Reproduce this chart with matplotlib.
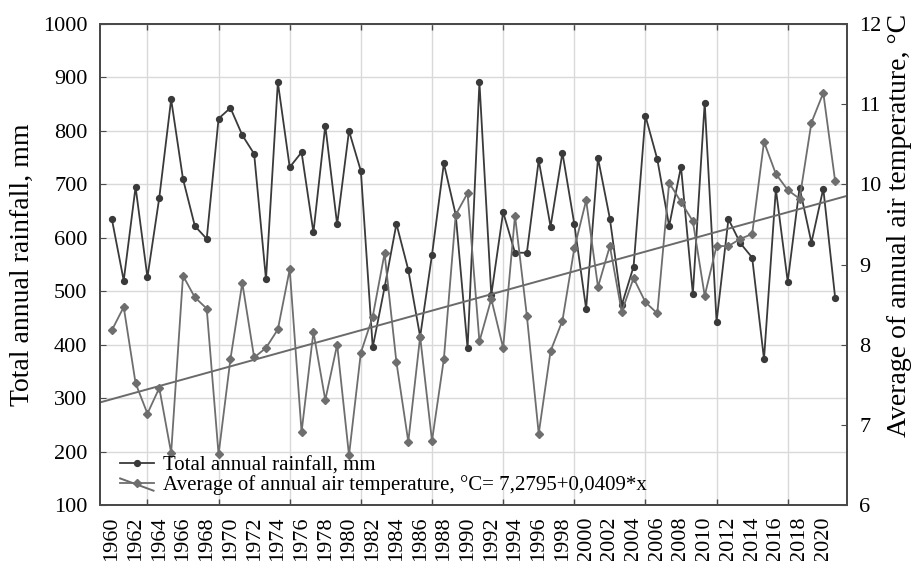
import matplotlib
matplotlib.use("Agg")
import matplotlib.pyplot as plt
import numpy as np
from matplotlib.lines import Line2D
from matplotlib.legend_handler import HandlerBase, HandlerTuple
from matplotlib.ticker import MultipleLocator

plt.rcParams['font.family'] = ['Liberation Serif', 'DejaVu Serif']

years = list(range(1960, 2022))
rainfall = [635, 520, 695, 526, 675, 859, 710, 622, 598, 823,
            843, 792, 757, 522, 891, 732, 760, 610, 810, 625,
            800, 725, 395, 507, 626, 540, 415, 568, 739, 643,
            393, 891, 493, 648, 572, 572, 745, 621, 759, 626,
            467, 749, 636, 474, 546, 828, 747, 622, 733, 495,
            853, 443, 635, 590, 563, 373, 691, 518, 694, 591,
            692, 488]
temperature = [8.18, 8.47, 7.52, 7.14, 7.46, 6.65, 8.86, 8.59, 8.45, 6.63,
               7.82, 8.77, 7.84, 7.96, 8.19, 8.94, 6.91, 8.16, 7.31, 8.00,
               6.62, 7.90, 8.35, 9.14, 7.78, 6.79, 8.10, 6.80, 7.82, 9.62,
               9.89, 8.04, 8.57, 7.96, 9.61, 8.36, 6.89, 7.92, 8.30, 9.20,
               9.80, 8.72, 9.23, 8.41, 8.83, 8.53, 8.39, 10.02, 9.78, 9.54,
               8.61, 9.23, 9.23, 9.32, 9.38, 10.53, 10.13, 9.93, 9.82, 10.77,
               11.14, 10.04]
trend_intercept = 7.2795
trend_slope = 0.0409
label_rain = "Total annual rainfall, mm"
label_temp = "Average of annual air temperature, °C= 7,2795+0,0409*x"
ylabel_left = "Total annual rainfall, mm"
ylabel_right = "Average of annual air temperature, °C"

c_rain = '#3a3a3a'
c_temp = '#6e6e6e'
c_trend = '#6a6a6a'
c_grid = '#d9d9d9'
c_spine = '#4a4a4a'

fig = plt.figure(figsize=(9.15, 5.61), dpi=100)
ax = fig.add_axes([100/915, 56/561, 747/915, 481/561])
ax2 = ax.twinx()

xmin, xmax = 1959, 2022
ax.set_xlim(xmin, xmax)
ax.set_ylim(100, 1000)
ax2.set_ylim(6, 12)

# grid
ax.yaxis.set_major_locator(MultipleLocator(100))
ax.set_xticks(years[::2])
ax.set_xticks(list(range(1960, 2021, 3)), minor=True)
ax.grid(True, which='major', axis='y', color=c_grid, lw=1.0)
ax.grid(True, which='minor', axis='x', color=c_grid, lw=1.0)
ax.set_axisbelow(True)

ax.plot(years, rainfall, color=c_rain, lw=1.3, marker='o', ms=4.2, zorder=3)

tx = np.array([xmin, xmax])
trend_y = trend_intercept + trend_slope * (tx - 1959)
trend_line, = ax2.plot(tx, trend_y, color=c_trend, lw=1.4, zorder=2)
temp_line, = ax2.plot(years, temperature, color=c_temp, lw=1.3, marker='D',
                      ms=3.8, zorder=3)

# ticks
ax.tick_params(axis='x', which='major', length=0, pad=8, labelsize=16,
               labelrotation=90)
ax.tick_params(axis='x', which='minor', direction='in', length=4,
               top=True, bottom=True, width=1, color=c_spine)
ax.tick_params(axis='y', which='major', direction='in', length=4,
               pad=9, labelsize=16, color=c_spine)
ax2.tick_params(axis='y', which='major', direction='in', length=4,
                pad=9, labelsize=16, color=c_spine)
ax2.yaxis.set_major_locator(MultipleLocator(1))

for a in (ax, ax2):
    for s in a.spines.values():
        s.set_color(c_spine)
        s.set_linewidth(1.4)

ax.set_ylabel(ylabel_left, fontsize=20)
ax.yaxis.set_label_coords(-0.0866, 0.5)
ax2.set_ylabel(ylabel_right, fontsize=20)
ax2.yaxis.set_label_coords(1.053, 0.582)


class HandlerDiag(HandlerBase):
    def create_artists(self, legend, orig_handle, xdescent, ydescent,
                       width, height, fontsize, trans):
        l = Line2D([-xdescent, -xdescent + width],
                   [-ydescent + height * 0.82, -ydescent - height * 0.02],
                   color=orig_handle.get_color(), lw=orig_handle.get_linewidth())
        l.set_transform(trans)
        return [l]


rain_proxy = Line2D([], [], color=c_rain, lw=1.3, marker='o', ms=4.2)
temp_proxy = Line2D([], [], color=c_temp, lw=1.3, marker='D', ms=3.8)
leg = ax2.legend([rain_proxy, (trend_line, temp_proxy)],
                 [label_rain, label_temp],
                 handler_map={trend_line: HandlerDiag(),
                              tuple: HandlerTuple(ndivide=1, pad=0)},
                 loc='lower left', bbox_to_anchor=(0.027, 0.02),
                 frameon=False, fontsize=15, borderpad=0, borderaxespad=0,
                 handlelength=1.6, handletextpad=0.45, labelspacing=0.0)

fig.savefig('out.png', dpi=100)
